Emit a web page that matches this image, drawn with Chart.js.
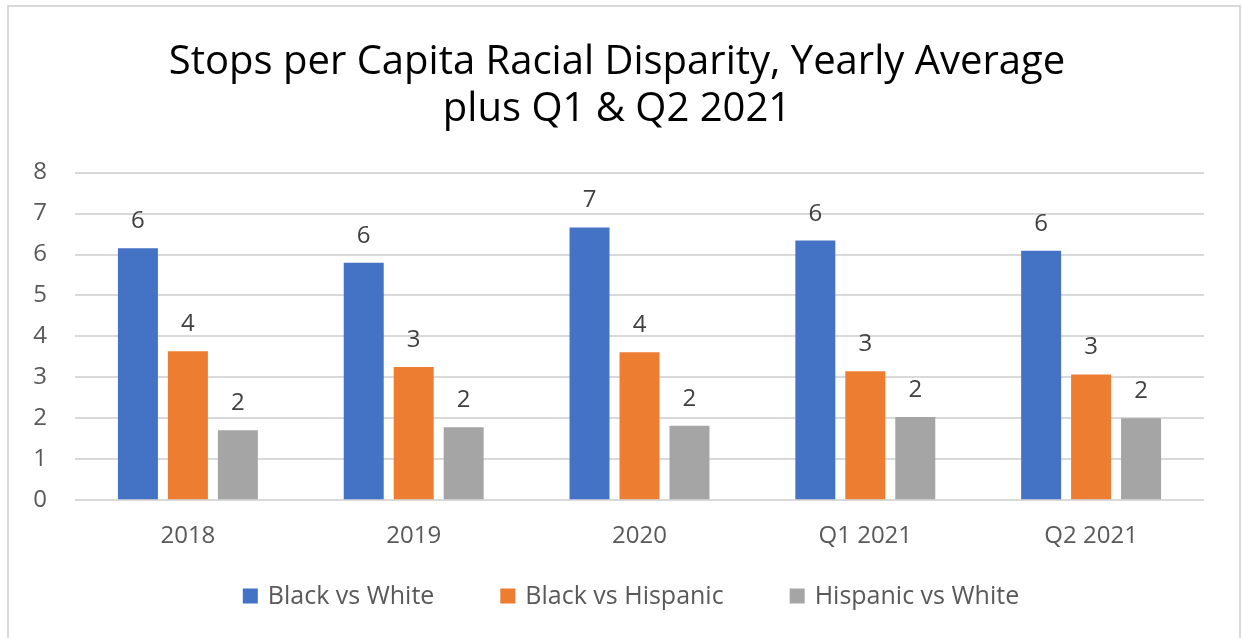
<!DOCTYPE html>
<html>
<head>
<meta charset="utf-8">
<script src="https://cdn.jsdelivr.net/npm/chart.js@4.4.1/dist/chart.umd.min.js"></script>
<style>
  html, body { margin: 0; padding: 0; background: #fff; }
  #wrap { position: relative; width: 1243px; height: 638px; overflow: hidden; }
  #frame { position: absolute; left: 7px; top: 5px; width: 1234px; height: 700px; border: 2px solid #d9d9d9; box-sizing: border-box; }
  #chart { position: absolute; left: 0; top: 0; }
</style>
</head>
<body>
<div id="wrap">
  <div id="frame"></div>
  <canvas id="chart" width="1243" height="638"></canvas>
</div>
<script>
// --- Data ---
const categories = ['2018', '2019', '2020', 'Q1 2021', 'Q2 2021'];
const blackVsWhite = [6.15, 5.80, 6.66, 6.34, 6.09];
const blackVsHispanic = [3.64, 3.25, 3.61, 3.15, 3.07];
const hispanicVsWhite = [1.71, 1.78, 1.82, 2.03, 2.00];
const yTicks = [0, 1, 2, 3, 4, 5, 6, 7, 8];

const FONT = "'Open Sans', sans-serif";

// rounded value labels above each bar
const barLabels = {
    id: 'barLabels',
    afterDatasetsDraw(chart) {
        const ctx = chart.ctx;
        ctx.save();
        ctx.font = `24px ${FONT}`;
        ctx.fillStyle = '#404040';
        ctx.textAlign = 'center';
        ctx.textBaseline = 'alphabetic';
        chart.data.datasets.forEach((ds, i) => {
            chart.getDatasetMeta(i).data.forEach((bar, j) => {
                ctx.fillText(Math.round(ds.data[j]), bar.x, bar.y - 20);
            });
        });
        ctx.restore();
    }
};

// legend row under the x axis (built from the datasets)
const bottomLegend = {
    id: 'bottomLegend',
    afterDraw(chart) {
        const ctx = chart.ctx;
        const box = 15, gapText = 10, gapItem = 66, cy = 597;
        ctx.save();
        ctx.font = `25px ${FONT}`;
        const items = chart.data.datasets.map(ds => ({
            text: ds.label, color: ds.backgroundColor, w: ctx.measureText(ds.label).width
        }));
        const total = items.reduce((s, it) => s + box + gapText + it.w, 0) + gapItem * (items.length - 1);
        let x = 631 - total / 2;
        ctx.textBaseline = 'middle';
        ctx.textAlign = 'left';
        items.forEach(it => {
            ctx.fillStyle = it.color;
            ctx.fillRect(x, cy - box / 2 - 1, box, box);
            ctx.fillStyle = '#595959';
            ctx.fillText(it.text, x + box + gapText, cy);
            x += box + gapText + it.w + gapItem;
        });
        ctx.restore();
    }
};

new Chart(document.getElementById('chart'), {
    type: 'bar',
    data: {
        labels: categories,
        datasets: [
            { label: 'Black vs White', data: blackVsWhite, backgroundColor: '#4472C4' },
            { label: 'Black vs Hispanic', data: blackVsHispanic, backgroundColor: '#ED7D31' },
            { label: 'Hispanic vs White', data: hispanicVsWhite, backgroundColor: '#A5A5A5' }
        ]
    },
    options: {
        responsive: false,
        animation: false,
        layout: { padding: { left: 30, right: 39, top: 0, bottom: 65 } },
        datasets: { bar: { categoryPercentage: 0.664, barPercentage: 0.8 } },
        plugins: {
            title: {
                display: true,
                text: ['Stops per Capita Racial Disparity, Yearly Average', 'plus Q1 & Q2 2021'],
                color: '#000',
                font: { family: FONT, size: 40, weight: 'normal', lineHeight: 1.17 },
                padding: { top: 39, bottom: 40 }
            },
            legend: { display: false },
            tooltip: { enabled: false }
        },
        scales: {
            x: {
                grid: { display: false, drawTicks: false },
                border: { display: false },
                ticks: { color: '#595959', font: { family: FONT, size: 24 }, padding: 22 }
            },
            y: {
                min: 0,
                max: 8,
                afterBuildTicks: (axis) => { axis.ticks = yTicks.map(v => ({ value: v })); },
                afterFit: (axis) => { axis.width = 45; },
                grid: { color: '#d9d9d9', lineWidth: 2, drawTicks: false },
                border: { display: false },
                ticks: { color: '#595959', font: { family: FONT, size: 24 }, padding: 28 }
            }
        }
    },
    plugins: [barLabels, bottomLegend]
});
</script>
</body>
</html>
